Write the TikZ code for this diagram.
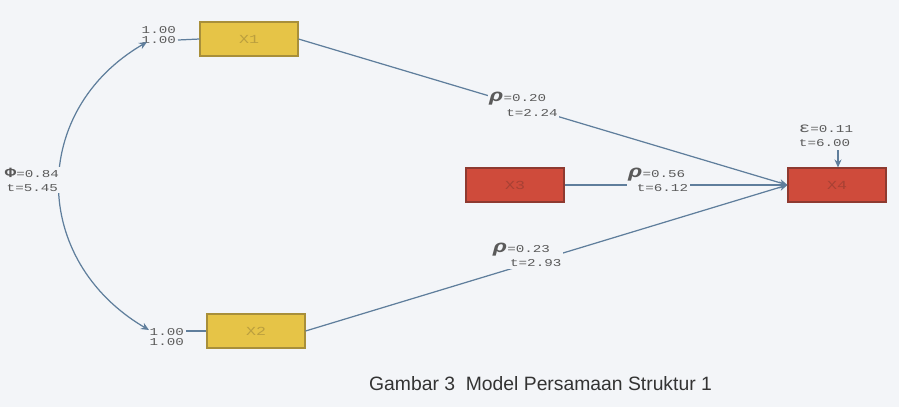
\documentclass[tikz,border=0pt]{standalone}
\usepackage{fontspec}
\setmainfont{Liberation Sans}
\newfontfamily\monof[FakeStretch=1.35]{Liberation Mono}
\usetikzlibrary{arrows.meta}
\definecolor{bg}{HTML}{F3F5F8}
\definecolor{ln}{HTML}{5F7E9C}
\definecolor{yel}{HTML}{E6C447}
\definecolor{yelb}{HTML}{A88F3A}
\definecolor{redf}{HTML}{CF4B3B}
\definecolor{redb}{HTML}{8E3A30}
\definecolor{txt}{HTML}{5A5A5A}
\tikzset{
  varbox/.style={draw, line width=0.6pt, minimum width=1.96cm, minimum height=0.68cm, inner sep=0pt, font=\monof\fontsize{7}{8}\selectfont},
  ybox/.style={varbox, fill=yel, draw=yelb, text=yelb!70!yel},
  rbox/.style={varbox, fill=redf, draw=redb, text=redb!60!redf},
  conn/.style={draw=ln, line width=0.7pt},
  tip/.style={-{Stealth[length=0.16cm,width=0.14cm]}},
  lab/.style={font=\monof\fontsize{6}{5.8}\selectfont, text=txt, align=left, inner sep=1pt},
  flab/.style={lab, fill=bg}
}
\newcommand{\rh}{{\fontsize{10}{10}\selectfont\bfseries\itshape ρ}}
\begin{document}
\begin{tikzpicture}[x=0.02cm,y=-0.02cm]
\useasboundingbox[fill=bg] (0,0) rectangle (899,407);
% boxes
\node[ybox] (x1) at (249,39) {X1};
\node[ybox] (x2) at (256,331) {X2};
\node[rbox] (x3) at (515,185) {X3};
\node[rbox] (x4) at (837,185) {X4};
% variance labels
\node[lab, anchor=east] (v1) at (178,35) {1.00\\1.00};
\node[lab, anchor=east] (v2) at (186,337) {1.00\\1.00};
\coordinate (v1r) at (178,40);
\coordinate (v2r) at (186,331);
\coordinate (c1) at (147,42);
\coordinate (c2) at (149,330);
\draw[conn] (v1r) -- (x1.west);
\draw[conn] (v2r) -- (x2.west);
% covariance curve
\draw[conn, {Stealth[length=0.16cm,width=0.14cm]}-{Stealth[length=0.16cm,width=0.14cm]}] (c1) .. controls (30,110) and (30,260) .. (c2);
\node[flab] (phi) at (32,180) {{\fontsize{8}{8}\selectfont\bfseries Φ}=0.84\\[2pt]\,t=5.45};
% paths
\draw[conn, tip] (x1.east) -- node[flab, pos=0.46, yshift=1pt] (l1) {\rh=0.20\\[1pt]\ \ t=2.24} (x4.west);
\draw[conn, tip] (x3.east) -- node[flab, pos=0.42, yshift=3pt] (l3) {\rh=0.56\\[1pt]\ t=6.12} (x4.west);
\draw[conn, tip] (x2.east) -- node[flab, pos=0.46, yshift=5pt] (l2) {\rh=0.23\\[1pt]\ \ t=2.93} (x4.west);
% error
\node[lab] (eps) at (826,136) {{\fontsize{8}{8}\selectfont ε}=0.11\\[2pt]t=6.00};
\coordinate (et) at (838,150);
\draw[conn, tip] (et) -- (x4.north -| et);
% caption
\node[font=\fontsize{11}{12}\selectfont, text=black!80, anchor=west] (cap) at (363,384) {Gambar 3\ \ Model Persamaan Struktur 1};
\end{tikzpicture}
\end{document}
